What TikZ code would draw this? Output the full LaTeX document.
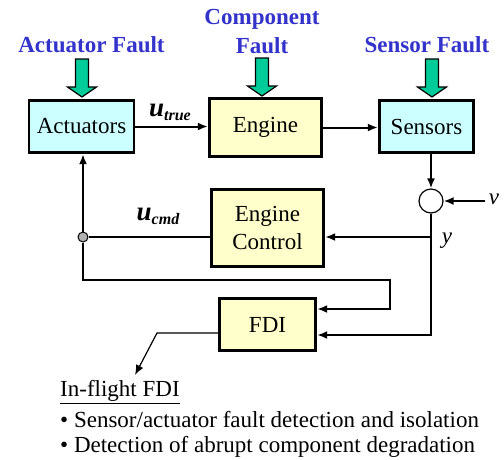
\documentclass[tikz,border=0pt]{standalone}
\usepackage{fontspec}
\setmainfont{Liberation Serif}
\usepackage{xcolor}
\usetikzlibrary{arrows.meta,positioning}
\definecolor{faultblue}{RGB}{51,51,204}
\definecolor{faultgreen}{RGB}{0,204,153}
\definecolor{actcyan}{RGB}{204,255,255}
\definecolor{engyellow}{RGB}{255,255,204}
\tikzset{
    block/.style={rectangle, draw, line width=2.8pt, fill=engyellow, align=center, inner sep=2pt},
    sensblock/.style={block, fill=actcyan},
    line/.style={draw, -{Latex[length=10pt,width=8pt]}, line width=2pt},
    wire/.style={draw, line width=2pt},
    faultlabel/.style={text=faultblue, font=\fontsize{23}{29}\selectfont\bfseries, align=center, inner sep=0pt},
    faultarrow/.pic={\draw[fill=faultgreen, line width=1.2pt] (-6.5,0) -- (6.5,0) -- (6.5,28) -- (14.5,28) -- (0,38) -- (-14.5,28) -- (-6.5,28) -- cycle;}
}

\begin{document}
\begin{tikzpicture}[x=1pt, y=-1pt, font=\fontsize{23}{28}\selectfont]
    \useasboundingbox (0,0) rectangle (504,459);
    % Faults
    \node[faultlabel] (actfault) at (91.5,45) {Actuator Fault};
    \node[faultlabel] (compfault) at (262,32) {Component\\Fault};
    \node[faultlabel] (sensfault) at (427,45) {Sensor Fault};
    \pic at (82,59) {faultarrow};
    \pic at (262,58) {faultarrow};
    \pic at (432,59) {faultarrow};
    % Plant: actuators, engine, sensors
    \node[sensblock, minimum width=105pt, minimum height=52.5pt] (act) at (81.5,126.5) {Actuators};
    \node[block, minimum width=112.5pt, minimum height=58.5pt] (eng) at (265.5,127.5) {Engine};
    \node[sensblock, minimum width=94.5pt, minimum height=52.5pt] (sen) at (426.5,126.5) {Sensors};
    % Controller and FDI
    \node[block, minimum width=112.5pt, minimum height=77.5pt] (ctrl) at (267.5,228) {Engine\\Control};
    \node[block, minimum width=96.5pt, minimum height=52.5pt] (fdi) at (267.5,324.5) {FDI};
    % Noise summing point and junction
    \node[circle, draw, line width=1.2pt, fill=white, minimum size=24pt, inner sep=0pt] (sum) at (431,201) {};
    \node[circle, draw, line width=1pt, fill=gray!60, minimum size=10pt, inner sep=0pt] (jn) at (83,237) {};
    \coordinate (ybr) at (431,237);
    \coordinate (turn) at (390,280);
    \coordinate (bend) at (157,333);
    \coordinate (out) at (135,375);
    % Signal labels
    \node (utrue) at (170,112) {\fontsize{27}{27}\selectfont\bfseries\itshape u\raisebox{-4pt}{\fontsize{16}{16}\selectfont true}};
    \node (ucmd) at (158,216) {\fontsize{27}{27}\selectfont\bfseries\itshape u\raisebox{-4pt}{\fontsize{16}{16}\selectfont cmd}};
    \node (vlab) at (494,199) {\textit{v}};
    \node (ylab) at (447,241) {\textit{y}};

    \draw[line] (act.east) -- (act.east -| eng.west);
    \draw[line] (eng.east) -- (eng.east -| sen.west);
    \draw[line] (sen.south -| sum) -- (sum.north);
    \draw[line] (vlab.west |- sum) -- (sum.east);
    \draw[line] (sum.south) |- ([yshift=-10.5pt]fdi.east);
    \draw[line] (ybr) -- (ybr -| ctrl.east);
    \draw[wire] (ctrl.west |- jn) -- (jn);
    \draw[line] (jn) -- (jn |- act.south);
    \draw[line] (jn) |- (turn) |- ([yshift=15.5pt]fdi.east);
    \draw[line, line width=1.2pt] ([yshift=-8.5pt]fdi.west) -- (bend) -- (out);
    % In-flight FDI notes
    \node[anchor=west, inner sep=2pt] (fdititle) at (58,392) {\underline{In-flight FDI}};
    \node[anchor=west, inner sep=2pt] (item1) at (58,420) {• Sensor/actuator fault detection and isolation};
    \node[anchor=west, inner sep=2pt] (item2) at (58,447) {• Detection of abrupt component degradation};
\end{tikzpicture}
\end{document}
